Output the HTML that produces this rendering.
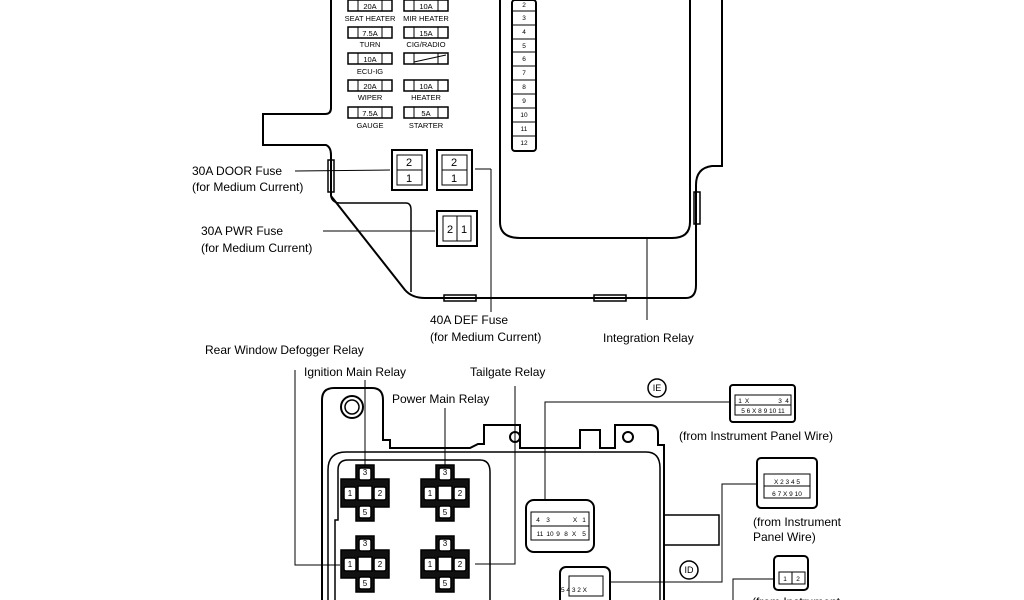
<!DOCTYPE html>
<html><head><meta charset="utf-8"><style>
html,body{margin:0;padding:0;background:#fff;}
svg{display:block;}
text{font-family:"Liberation Sans",sans-serif;fill:#000;}
.l{font-size:12px;}
.s{font-size:7.5px;}
.t{font-size:6.5px;}
</style></head><body>
<svg width="1024" height="600" viewBox="0 0 1024 600" xmlns="http://www.w3.org/2000/svg">
<defs>
<g id="fuse"><rect x="0" y="0" width="44" height="11" fill="#fff" stroke="#000" stroke-width="1.5"/><line x1="10" y1="0" x2="10" y2="11" stroke="#000"/><line x1="34" y1="0" x2="34" y2="11" stroke="#000"/></g>
<g id="relay" stroke="#000" fill="#fff" stroke-width="1.5">
<path d="M-9,-28 H9 V-14 H24 V14 H9 V28 H-9 V14 H-24 V-14 H-9 Z" fill="#111"/>
<rect x="-6" y="-25" width="12" height="12" rx="2"/><rect x="-21" y="-6" width="12" height="13" rx="2"/><rect x="9" y="-6" width="12" height="13" rx="2"/><rect x="-6" y="13" width="12" height="12" rx="2"/>
<rect x="-7" y="-7" width="14" height="14"/>
</g>
</defs>
<g fill="none" stroke="#000" stroke-width="2">
<path d="M331,0 V108 Q331,114 325,114 H263 V145 H326 Q331,147 331,155 V196 L405,290 Q412,298 425,298 H686 Q696,298 696,285 V185 Q696,168 712,166 L722,166 V0"/>
<path d="M331,197 Q333,203 340,203 H406 Q411,203 411,210 V292" stroke-width="1.5"/>
<path d="M500,0 V222 Q500,238 520,238 H672 Q690,238 690,222 V0"/>
<rect x="512" y="0" width="24" height="151" rx="3"/>
<rect x="444" y="295" width="32" height="6" stroke-width="1.5"/>
<rect x="594" y="295" width="32" height="6" stroke-width="1.5"/>
<rect x="328" y="160" width="6" height="32" stroke-width="1.5"/>
<rect x="694" y="192" width="6" height="32" stroke-width="1.5"/>
<rect x="392" y="150" width="35" height="40"/><rect x="397" y="155" width="25" height="30" stroke-width="1"/><line x1="397" y1="170" x2="422" y2="170" stroke-width="1"/>
<rect x="437" y="150" width="35" height="40"/><rect x="442" y="155" width="25" height="30" stroke-width="1"/><line x1="442" y1="170" x2="467" y2="170" stroke-width="1"/>
<rect x="437" y="211" width="40" height="35"/><rect x="443" y="216" width="28" height="25" stroke-width="1"/><line x1="457" y1="216" x2="457" y2="241" stroke-width="1"/>
</g>
<g stroke="#000" stroke-width="1">
<line x1="512" y1="11" x2="536" y2="11"/><line x1="512" y1="25" x2="536" y2="25"/><line x1="512" y1="39" x2="536" y2="39"/><line x1="512" y1="52" x2="536" y2="52"/><line x1="512" y1="66" x2="536" y2="66"/><line x1="512" y1="80" x2="536" y2="80"/><line x1="512" y1="94" x2="536" y2="94"/><line x1="512" y1="108" x2="536" y2="108"/><line x1="512" y1="122" x2="536" y2="122"/><line x1="512" y1="136" x2="536" y2="136"/>
<line x1="295" y1="171" x2="390" y2="170"/>
<line x1="475" y1="169" x2="491" y2="169"/><line x1="491" y1="169" x2="491" y2="312"/>
<line x1="323" y1="231" x2="435" y2="231"/>
<line x1="647" y1="238" x2="647" y2="320"/>
</g>
<g class="t" text-anchor="middle">
<text x="524" y="7">2</text><text x="524" y="20">3</text><text x="524" y="34">4</text><text x="524" y="48">5</text><text x="524" y="61">6</text><text x="524" y="75">7</text><text x="524" y="89">8</text><text x="524" y="103">9</text><text x="524" y="117">10</text><text x="524" y="131">11</text><text x="524" y="145">12</text>
</g>
<use href="#fuse" x="348" y="0"/><use href="#fuse" x="404" y="0"/>
<use href="#fuse" x="348" y="27"/><use href="#fuse" x="404" y="27"/>
<use href="#fuse" x="348" y="53"/><use href="#fuse" x="404" y="53"/><line x1="414" y1="62" x2="446" y2="55" stroke="#000"/>
<use href="#fuse" x="348" y="80"/><use href="#fuse" x="404" y="80"/>
<use href="#fuse" x="348" y="107"/><use href="#fuse" x="404" y="107"/>
<g class="s" text-anchor="middle">
<text x="370" y="9">20A</text><text x="426" y="9">10A</text>
<text x="370" y="21">SEAT HEATER</text><text x="426" y="21">MIR HEATER</text>
<text x="370" y="36">7.5A</text><text x="426" y="36">15A</text>
<text x="370" y="47">TURN</text><text x="426" y="47">CIG/RADIO</text>
<text x="370" y="62">10A</text><text x="370" y="74">ECU-IG</text>
<text x="370" y="89">20A</text><text x="426" y="89">10A</text>
<text x="370" y="100">WIPER</text><text x="426" y="100">HEATER</text>
<text x="370" y="116">7.5A</text><text x="426" y="116">5A</text>
<text x="370" y="128">GAUGE</text><text x="426" y="128">STARTER</text>
</g>
<g style="font-size:11px" text-anchor="middle">
<text x="409" y="166">2</text><text x="409" y="182">1</text>
<text x="454" y="166">2</text><text x="454" y="182">1</text>
<text x="450" y="233">2</text><text x="464" y="233">1</text>
</g>
<g class="l">
<text x="192" y="175">30A DOOR Fuse</text><text x="192" y="191">(for Medium Current)</text>
<text x="201" y="235">30A PWR Fuse</text><text x="201" y="252">(for Medium Current)</text>
<text x="430" y="324">40A DEF Fuse</text><text x="430" y="341">(for Medium Current)</text>
<text x="603" y="342">Integration Relay</text>
<text x="205" y="354">Rear Window Defogger Relay</text>
<text x="304" y="376">Ignition Main Relay</text>
<text x="470" y="376">Tailgate Relay</text>
<text x="392" y="403">Power Main Relay</text>
<text x="679" y="440">(from Instrument Panel Wire)</text>
<text x="753" y="526">(from Instrument</text><text x="753" y="541">Panel Wire)</text>
<text x="752" y="606">(from Instrument</text>
</g>
<g fill="none" stroke="#000" stroke-width="2">
<path d="M322,600 V400 Q322,388 334,388 H372 Q383,388 383,400 V440 H390 V448 H470 L478,444 H484 V425 H520 V448 H580 V430 H600 V448 H615 V425 H650 Q658,425 658,433 V445 H664 V600"/>
<circle cx="352" cy="407" r="11"/><circle cx="352" cy="407" r="7" stroke-width="1.5"/>
<circle cx="515" cy="437" r="5"/><circle cx="628" cy="437" r="5"/>
<path d="M328,600 V470 Q328,452 346,452 H646 Q660,452 660,468 V600" stroke-width="1.5"/>
<path d="M335,600 V520 H338 V470 Q338,460 348,460 H480 Q490,460 490,472 V600" stroke-width="1.5"/>
<rect x="664" y="515" width="55" height="30" stroke-width="1.5"/>
<rect x="526" y="500" width="68" height="52" rx="8"/>
<rect x="560" y="567" width="50" height="40" rx="6"/>
<rect x="730" y="385" width="65" height="37" rx="3"/>
<rect x="757" y="458" width="60" height="50" rx="4"/>
<rect x="774" y="556" width="34" height="34" rx="4"/>
<circle cx="657" cy="388" r="9" stroke-width="1.5"/>
<circle cx="689" cy="570" r="9" stroke-width="1.5"/>
</g>
<g stroke="#000" stroke-width="1" fill="none">
<rect x="531" y="512" width="58" height="28"/><line x1="531" y1="526" x2="589" y2="526"/>
<rect x="569" y="576" width="34" height="20"/>
<rect x="735" y="395" width="56" height="20"/><line x1="735" y1="405" x2="791" y2="405"/>
<rect x="764" y="474" width="46" height="24"/><line x1="764" y1="486" x2="810" y2="486"/>
<rect x="779" y="572" width="26" height="12"/><line x1="792" y1="572" x2="792" y2="584"/>
<polyline points="295,370 295,565 340,565"/>
<line x1="365" y1="380" x2="365" y2="465"/>
<line x1="445" y1="408" x2="445" y2="465"/>
<polyline points="515,386 515,564 475,564"/>
<polyline points="545,500 545,402 730,402"/>
<polyline points="610,582 722,582 722,484 757,484"/>
<polyline points="733,600 733,579 774,579"/>
</g>
<g class="t" text-anchor="middle">
<text x="689" y="573" style="font-size:9px">ID</text>
<text x="657" y="391" style="font-size:9px">IE</text>
<text x="538" y="522">4</text><text x="548" y="522">3</text><text x="575" y="522">X</text><text x="584" y="522">1</text>
<text x="540" y="536">11</text><text x="550" y="536">10</text><text x="558" y="536">9</text><text x="566" y="536">8</text><text x="574" y="536">X</text><text x="584" y="536">5</text>
<text x="574" y="592">5 4 3 2 X</text>
<text x="740" y="403">1</text><text x="747" y="403">X</text><text x="780" y="403">3</text><text x="787" y="403">4</text>
<text x="763" y="413">5 6 X 8 9 10 11</text>
<text x="787" y="484">X 2 3 4 5</text><text x="787" y="496">6 7 X 9 10</text>
<text x="785" y="581">1</text><text x="798" y="581">2</text>
</g>
<use href="#relay" x="365" y="493"/><use href="#relay" x="445" y="493"/>
<use href="#relay" x="365" y="564"/><use href="#relay" x="445" y="564"/>
<g class="t" text-anchor="middle" style="font-size:8px">
<text x="365" y="475">3</text><text x="350" y="496">1</text><text x="380" y="496">2</text><text x="365" y="515">5</text>
<text x="445" y="475">3</text><text x="430" y="496">1</text><text x="460" y="496">2</text><text x="445" y="515">5</text>
<text x="365" y="546">3</text><text x="350" y="567">1</text><text x="380" y="567">2</text><text x="365" y="586">5</text>
<text x="445" y="546">3</text><text x="430" y="567">1</text><text x="460" y="567">2</text><text x="445" y="586">5</text>
</g>
</svg>
</body></html>
